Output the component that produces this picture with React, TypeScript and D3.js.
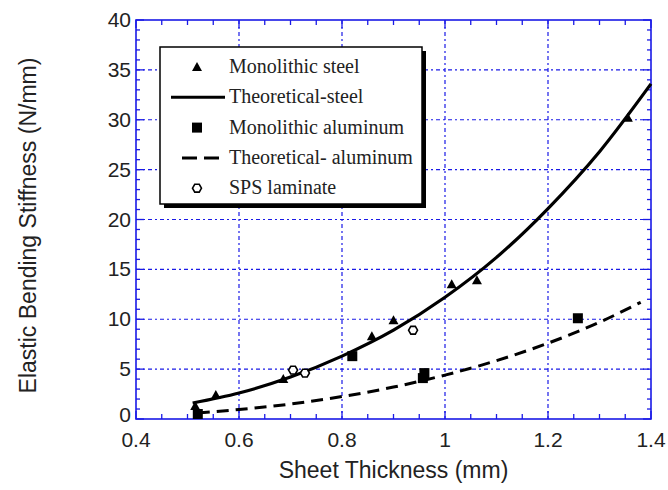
import * as React from "react"
import * as d3 from "d3"

const WIDTH = 668
const HEIGHT = 490
const M = { left: 136, right: 651, top: 20, bottom: 419 }

const steelPoints = [
  [0.515, 1.3], [0.555, 2.4], [0.686, 4.0], [0.858, 8.3], [0.9, 9.9],
  [1.013, 13.5], [1.062, 13.9], [1.355, 30.2],
]
const aluminumPoints = [
  [0.52, 0.5], [0.82, 6.3], [0.957, 4.1], [0.96, 4.6], [1.258, 10.1],
]
const spsPoints = [
  [0.705, 4.9], [0.728, 4.6], [0.938, 8.9],
]
const steelTheory = [
  [0.51, 1.6], [0.6, 2.6], [0.7, 4.2], [0.8, 6.3], [0.9, 8.9], [1.0, 12.2],
  [1.1, 16.2], [1.2, 21.1], [1.3, 26.8], [1.4, 33.6],
]
const aluminumTheory = [
  [0.52, 0.6], [0.6, 0.95], [0.7, 1.5], [0.8, 2.25], [0.9, 3.2], [1.0, 4.4],
  [1.1, 5.85], [1.2, 7.6], [1.3, 9.7], [1.38, 11.7],
]

const xTicks = [0.4, 0.6, 0.8, 1, 1.2, 1.4]
const yTicks = [0, 5, 10, 15, 20, 25, 30, 35, 40]

const legendItems = [
  { label: "Monolithic steel", kind: "triangle" },
  { label: "Theoretical-steel", kind: "line" },
  { label: "Monolithic aluminum", kind: "square" },
  { label: "Theoretical- aluminum", kind: "dash" },
  { label: "SPS laminate", kind: "hex" },
]

const BLUE = "#1a1ae6"

function Marker({ kind, x, y }: { kind: string; x: number; y: number }) {
  if (kind === "triangle") {
    const s = 5
    return <path d={`M${x},${y - s}L${x + s},${y + s * 0.8}L${x - s},${y + s * 0.8}Z`} fill="#000" />
  }
  if (kind === "square") {
    return <rect x={x - 5} y={y - 5} width={10} height={10} fill="#000" />
  }
  const hex = d3.range(6).map(i => {
    const a = (Math.PI / 3) * i
    return [x + 4.5 * Math.cos(a), y + 4.5 * Math.sin(a)]
  })
  return <path d={"M" + hex.join("L") + "Z"} fill="#fff" stroke="#000" strokeWidth={1.6} />
}

export default function App() {
  const x = d3.scaleLinear().domain([0.4, 1.4]).range([M.left, M.right])
  const y = d3.scaleLinear().domain([0, 40]).range([M.bottom, M.top])

  const line = d3
    .line<number[]>()
    .x(d => x(d[0]))
    .y(d => y(d[1]))
    .curve(d3.curveMonotoneX)

  const xMinor = d3.range(0.45, 1.4, 0.05).filter(v => Math.abs(v * 5 - Math.round(v * 5)) > 0.01)
  const yMinor = d3.range(1, 40, 1).filter(v => v % 5 !== 0)

  const lx = 160
  const ly = 47
  const lw = 262
  const lh = 157

  return (
    <svg width={WIDTH} height={HEIGHT} style={{ position: "absolute", left: 0, top: 0, background: "#fff" }}>
      {/* grid */}
      <g stroke={BLUE} strokeWidth={1.2} strokeDasharray="4,3,2,3">
        {xTicks.slice(1, -1).map(t => (
          <line key={"gx" + t} x1={x(t)} x2={x(t)} y1={M.top} y2={M.bottom} />
        ))}
        {yTicks.slice(1, -1).map(t => (
          <line key={"gy" + t} x1={M.left} x2={M.right} y1={y(t)} y2={y(t)} />
        ))}
      </g>

      {/* ticks on all four sides, pointing inward */}
      <g stroke={BLUE} strokeWidth={1.3}>
        {xTicks.map(t => (
          <g key={"tx" + t}>
            <line x1={x(t)} x2={x(t)} y1={M.bottom} y2={M.bottom - 8} />
            <line x1={x(t)} x2={x(t)} y1={M.top} y2={M.top + 8} />
          </g>
        ))}
        {xMinor.map(t => (
          <g key={"mx" + t}>
            <line x1={x(t)} x2={x(t)} y1={M.bottom} y2={M.bottom - 5} />
            <line x1={x(t)} x2={x(t)} y1={M.top} y2={M.top + 5} />
          </g>
        ))}
        {yTicks.map(t => (
          <g key={"ty" + t}>
            <line x1={M.left} x2={M.left + 8} y1={y(t)} y2={y(t)} />
            <line x1={M.right} x2={M.right - 8} y1={y(t)} y2={y(t)} />
          </g>
        ))}
        {yMinor.map(t => (
          <g key={"my" + t}>
            <line x1={M.left} x2={M.left + 4} y1={y(t)} y2={y(t)} />
            <line x1={M.right} x2={M.right - 4} y1={y(t)} y2={y(t)} />
          </g>
        ))}
      </g>
      <rect x={M.left} y={M.top} width={M.right - M.left} height={M.bottom - M.top} fill="none" stroke={BLUE} strokeWidth={1.6} />

      {/* theory curves */}
      <path d={line(steelTheory) || ""} fill="none" stroke="#000" strokeWidth={3.2} />
      <path d={line(aluminumTheory) || ""} fill="none" stroke="#000" strokeWidth={3} strokeDasharray="12,7" />

      {/* data */}
      {steelPoints.map((d, i) => <Marker key={"s" + i} kind="triangle" x={x(d[0])} y={y(d[1])} />)}
      {aluminumPoints.map((d, i) => <Marker key={"a" + i} kind="square" x={x(d[0])} y={y(d[1])} />)}
      {spsPoints.map((d, i) => <Marker key={"p" + i} kind="hex" x={x(d[0])} y={y(d[1])} />)}

      {/* legend */}
      <rect x={lx + 4} y={ly + 4} width={lw} height={lh} fill="#000" />
      <rect x={lx} y={ly} width={lw} height={lh} fill="#fff" stroke="#000" strokeWidth={1.5} />
      {legendItems.map((item, i) => {
        const cy = ly + 20 + i * 30.3
        return (
          <g key={item.label}>
            {item.kind === "line" && <line x1={171} x2={225} y1={cy} y2={cy} stroke="#000" strokeWidth={3} />}
            {item.kind === "dash" && (
              <line x1={182} x2={225} y1={cy} y2={cy} stroke="#000" strokeWidth={3} strokeDasharray="15,7" />
            )}
            {(item.kind === "triangle" || item.kind === "square" || item.kind === "hex") && (
              <Marker kind={item.kind} x={197} y={cy} />
            )}
            <text x={229} y={cy + 6} fontFamily="Liberation Serif, serif" fontSize={20} fill="#222">
              {item.label}
            </text>
          </g>
        )
      })}

      {/* tick labels */}
      <g fontFamily="Liberation Sans, Arial, sans-serif" fontSize={21} fill="#222">
        {yTicks.map(t => (
          <text key={"ly" + t} x={M.left - 5} y={y(t) + (t === 0 ? 3 : 7)} textAnchor="end">
            {t}
          </text>
        ))}
        {xTicks.map(t => (
          <text key={"lx" + t} x={x(t)} y={M.bottom + 28} textAnchor="middle">
            {t}
          </text>
        ))}
      </g>
      <g fontFamily="Liberation Sans, Arial, sans-serif" fontSize={23} fill="#222">
        <text x={(M.left + M.right) / 2} y={478} textAnchor="middle">
          Sheet Thickness (mm)
        </text>
        <text transform={`translate(36,${(M.top + M.bottom) / 2 + 6}) rotate(-90)`} textAnchor="middle">
          Elastic Bending Stiffness (N/mm)
        </text>
      </g>
    </svg>
  )
}
